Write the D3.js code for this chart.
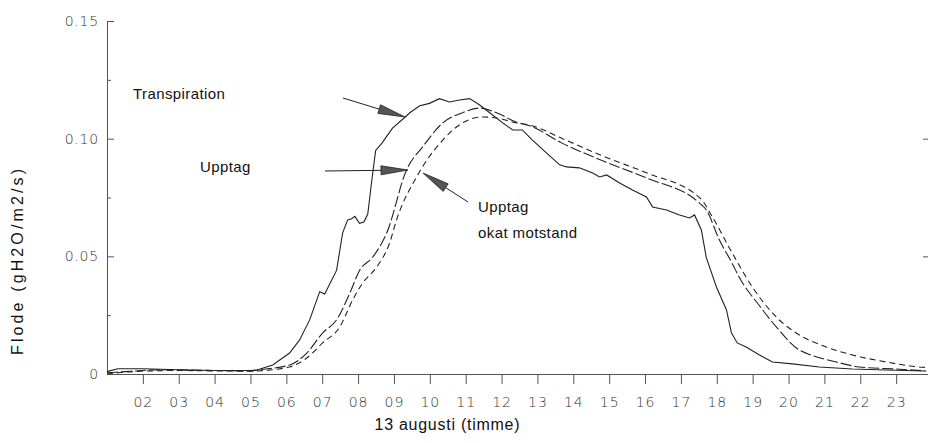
<!DOCTYPE html>
<html>
<head>
<meta charset="utf-8">
<script src="https://cdn.jsdelivr.net/npm/d3@7"></script>
<style>
  body { margin: 0; background: #fff; }
  svg { display: block; }
  .tick text { font-family: "DejaVu Sans", sans-serif; font-weight: 200; fill: #333; }
</style>
</head>
<body>
<svg id="chart" width="928" height="443"></svg>
<script>
// Hour ticks along the bottom axis
const hourTicks = [2, 3, 4, 5, 6, 7, 8, 9, 10, 11, 12, 13, 14, 15, 16, 17, 18, 19, 20, 21, 22, 23];
const hourLabels = ["02", "03", "04", "05", "06", "07", "08", "09", "10", "11", "12",
                    "13", "14", "15", "16", "17", "18", "19", "20", "21", "22", "23"];
// Flow ticks
const flowTicks = [0, 0.05, 0.10, 0.15];
const flowLabels = ["0", "0.05", "0.10", "0.15"];
const flowMinorTicks = [0.025, 0.075, 0.125];
const rightTicks = [0.05, 0.10];

// Transpiration (solid)
const transpHours = [1.0, 1.3, 2.0, 3.0, 4.0, 5.0, 5.18, 5.62, 6.09, 6.37, 6.65, 6.93, 7.07, 7.4, 7.57, 7.71,
  7.82, 7.91, 8.04, 8.16, 8.27, 8.38, 8.49, 8.66, 8.96, 9.3, 9.44, 9.72, 9.99, 10.27, 10.55, 10.83,
  11.11, 11.39, 11.67, 12.03, 12.31, 12.58, 12.86, 13.25, 13.62, 13.81, 14.17, 14.54, 14.73, 14.93,
  15.29, 15.65, 16.04, 16.21, 16.6, 16.96, 17.24, 17.38, 17.57, 17.71, 17.99, 18.27, 18.41, 18.57,
  18.82, 19.19, 19.55, 20.11, 20.86, 21.78, 22.72, 23.8];
const transpValues = [0.001, 0.0022, 0.0022, 0.0018, 0.0015, 0.0015, 0.0017, 0.0038, 0.0089, 0.0145, 0.023, 0.035, 0.034, 0.044, 0.060, 0.0655,
  0.066, 0.067, 0.064, 0.0646, 0.068, 0.082, 0.095, 0.098, 0.1045, 0.109, 0.111, 0.114, 0.115, 0.117, 0.1156, 0.1164,
  0.117, 0.1143, 0.111, 0.1067, 0.1037, 0.1037, 0.0994, 0.094, 0.0889, 0.088, 0.0876, 0.0854, 0.0837, 0.0846,
  0.0812, 0.0782, 0.0752, 0.071, 0.0697, 0.0676, 0.0663, 0.0676, 0.0612, 0.0493, 0.037, 0.0272, 0.0174, 0.0132,
  0.0115, 0.0081, 0.0051, 0.0043, 0.003, 0.0021, 0.0017, 0.0013];

// Upptag (long dashes)
const upptagHours = [1.0, 1.5, 2.0, 2.5, 3.0, 4.0, 5.0, 5.18, 6.09, 6.57, 7.01, 7.4, 7.77, 8.04, 8.41, 8.8,
  9.35, 9.8, 10.36, 10.91, 11.39, 11.86, 12.42, 12.78, 13.7, 14.92, 16.04, 17.51, 17.71, 18.07, 18.43,
  18.63, 19.19, 19.66, 20.3, 20.5, 21.33, 21.97, 23.0, 23.84];
const upptagValues = [0.0005, 0.001, 0.0015, 0.0018, 0.0017, 0.0015, 0.0013, 0.0017, 0.0038, 0.0089, 0.0174, 0.023, 0.0344, 0.044, 0.0497, 0.060,
  0.0867, 0.0965, 0.1067, 0.111, 0.113, 0.111, 0.107, 0.1055, 0.098, 0.090, 0.0833, 0.0727, 0.0697, 0.057, 0.047,
  0.041, 0.029, 0.020, 0.0102, 0.0088, 0.0051, 0.003, 0.0021, 0.0013];

// Upptag, okat motstand (short dashes)
const okatHours = [1.0, 1.5, 2.0, 3.0, 4.0, 5.0, 5.18, 6.09, 6.57, 7.01, 7.49, 7.85, 8.13, 8.52, 8.88, 9.07,
  9.63, 10.36, 10.91, 11.47, 11.86, 12.42, 12.78, 13.7, 14.92, 16.04, 17.55, 17.88, 18.43, 18.99,
  19.66, 20.3, 21.05, 21.78, 22.72, 23.64, 23.9];
const okatValues = [0.0, 0.0008, 0.0012, 0.0015, 0.0013, 0.0012, 0.0013, 0.003, 0.0068, 0.0132, 0.020, 0.0315, 0.0387, 0.0455, 0.0557, 0.0654,
  0.0837, 0.0994, 0.1067, 0.1092, 0.1088, 0.1067, 0.1058, 0.100, 0.092, 0.0855, 0.0745, 0.0667, 0.0514, 0.037,
  0.0242, 0.0166, 0.0115, 0.0081, 0.0051, 0.003, 0.0027];

const svg = d3.select("#chart");
const x = d3.scaleLinear().domain([1, 24]).range([107, 932]);
const y = d3.scaleLinear().domain([0, 0.15]).range([374, 21]);

const axisColor = "#555";

// Bottom axis
const xAxis = svg.append("g")
  .attr("transform", `translate(0,${y(0)})`)
  .call(d3.axisBottom(x).tickValues(hourTicks)
    .tickFormat((d, i) => hourLabels[i])
    .tickSizeInner(10).tickSizeOuter(0).tickPadding(13));
xAxis.select(".domain").attr("stroke", axisColor);
xAxis.selectAll(".tick line").attr("stroke", axisColor);
xAxis.selectAll(".tick text").attr("font-size", 14).attr("letter-spacing", 1);

// Left axis, ticks pointing into the plot
const yAxis = svg.append("g")
  .attr("transform", `translate(${x(1)},0)`)
  .call(d3.axisLeft(y).tickValues(flowTicks)
    .tickFormat((d, i) => flowLabels[i])
    .tickSizeInner(-7).tickSizeOuter(0).tickPadding(8));
yAxis.select(".domain").attr("stroke", axisColor);
yAxis.selectAll(".tick line").attr("stroke", axisColor)
  .filter(d => d === 0).remove();
yAxis.selectAll(".tick text").attr("font-size", 14).attr("letter-spacing", 0.8);

const yMinor = svg.append("g")
  .attr("transform", `translate(${x(1)},0)`)
  .call(d3.axisLeft(y).tickValues(flowMinorTicks).tickFormat("")
    .tickSizeInner(-4).tickSizeOuter(0));
yMinor.select(".domain").remove();
yMinor.selectAll(".tick line").attr("stroke", axisColor);

// Right edge ticks
const yRight = svg.append("g")
  .attr("transform", `translate(929,0)`)
  .call(d3.axisRight(y).tickValues(rightTicks).tickFormat("")
    .tickSizeInner(-6).tickSizeOuter(0));
yRight.select(".domain").remove();
yRight.selectAll(".tick line").attr("stroke", axisColor);

// Curves
const linePlain = d3.line().x(d => x(d[0])).y(d => y(d[1]));
const lineSmooth = d3.line().x(d => x(d[0])).y(d => y(d[1])).curve(d3.curveMonotoneX);

svg.append("path")
  .datum(okatHours.map((h, i) => [h, okatValues[i]]))
  .attr("d", lineSmooth).attr("fill", "none")
  .attr("stroke", "#222").attr("stroke-width", 1.1)
  .attr("stroke-dasharray", "6,4");

svg.append("path")
  .datum(upptagHours.map((h, i) => [h, upptagValues[i]]))
  .attr("d", lineSmooth).attr("fill", "none")
  .attr("stroke", "#222").attr("stroke-width", 1.1)
  .attr("stroke-dasharray", "11,3");

svg.append("path")
  .datum(transpHours.map((h, i) => [h, transpValues[i]]))
  .attr("d", linePlain).attr("fill", "none")
  .attr("stroke", "#222").attr("stroke-width", 1.1);

// Annotation arrows pointing at the curves
function arrow(x1, y1, x2, y2) {
  const g = svg.append("g");
  const ang = Math.atan2(y2 - y1, x2 - x1);
  const len = 27, half = 4.5;
  const bx = x2 - len * Math.cos(ang), by = y2 - len * Math.sin(ang);
  g.append("line").attr("x1", x1).attr("y1", y1).attr("x2", bx).attr("y2", by)
    .attr("stroke", "#222").attr("stroke-width", 1);
  const px = -Math.sin(ang) * half, py = Math.cos(ang) * half;
  g.append("path")
    .attr("d", `M${x2},${y2}L${bx + px},${by + py}L${bx - px},${by - py}Z`)
    .attr("fill", "#555").attr("stroke", "#222").attr("stroke-width", 0.8);
}
arrow(343, 98, 405, 117);
arrow(325, 171, 408, 170);
arrow(468, 202, 423, 173);

// Labels
const labelFont = "'Liberation Sans', Arial, sans-serif";
function label(tx, ty, txt) {
  svg.append("text").attr("x", tx).attr("y", ty).text(txt)
    .attr("font-family", labelFont).attr("font-size", 15).attr("letter-spacing", 0.4)
    .attr("fill", "#111");
}
label(133, 99, "Transpiration");
label(200, 172, "Upptag");
label(478, 212, "Upptag");
label(478, 238, "okat motstand");

svg.append("text")
  .attr("x", 447).attr("y", 430).attr("text-anchor", "middle")
  .attr("font-family", labelFont).attr("font-size", 16)
  .attr("textLength", 145).attr("lengthAdjust", "spacing")
  .attr("fill", "#111").text("13 augusti (timme)");

svg.append("text")
  .attr("transform", "translate(23,262) rotate(-90)")
  .attr("text-anchor", "middle")
  .attr("font-family", labelFont).attr("font-size", 16)
  .attr("textLength", 186).attr("lengthAdjust", "spacing")
  .attr("fill", "#111").text("Flode (gH2O/m2/s)");
</script>
</body>
</html>
